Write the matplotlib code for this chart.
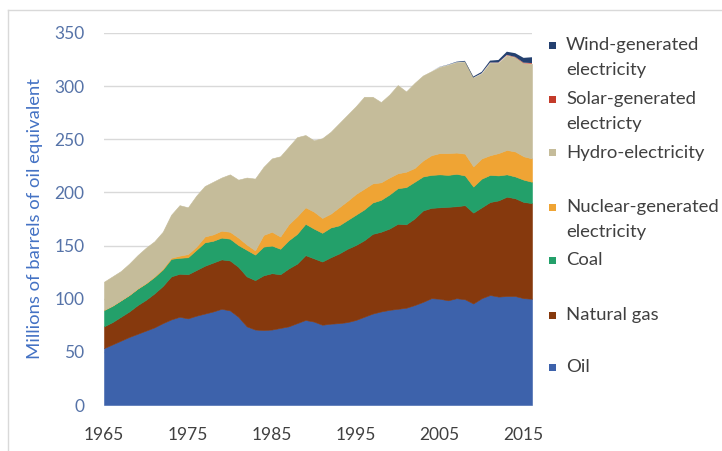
import matplotlib
matplotlib.use("Agg")
import matplotlib.pyplot as plt
from matplotlib.lines import Line2D
from matplotlib.patches import Rectangle

plt.rcParams['font.family'] = ['Lato', 'DejaVu Sans']

years = list(range(1965, 2017))

oil = [53.5, 57, 60.5, 64, 67, 70, 73, 77, 80.5, 83, 81.5, 84, 86, 88, 90.5, 89, 83, 74, 71,
       70.5, 71, 72.5, 74, 77, 80, 78.5, 75.5, 76.5, 77, 78, 80, 83, 86, 88, 89.5, 90.5, 91.5,
       94, 97, 100.5, 100, 98.5, 100.5, 99.5, 95.5, 100.5, 103.5, 102, 102.5, 102.5, 100.5, 100]
natural_gas = [20.5, 21, 22.5, 24, 27, 29, 32, 35, 40.5, 40.5, 41.5, 43, 45, 46, 46.5, 47, 47, 47,
               46.5, 51.5, 53, 50.5, 54.5, 56, 61, 59.5, 59.5, 62.5, 65.5, 69, 70.5, 72, 75, 75,
               76.5, 80, 78.5, 81.5, 86, 85, 86, 88, 86.5, 88.5, 85.5, 85.5, 87.5, 90.5, 93.5, 92,
               90.5, 90]
coal = [15.5, 15.5, 15.5, 15.5, 15.5, 15.5, 15.5, 15.5, 16.5, 15, 16, 19, 22, 20.5, 20.5, 20.5,
        20.5, 25, 24, 27, 26, 24, 26.5, 28, 29.5, 28, 27, 28, 26.5, 27, 28.5, 29, 29.5, 30, 32,
        33.5, 35, 34.5, 32, 31, 31, 30, 30.5, 28, 24.5, 27, 25.5, 23.5, 21, 20.5, 21, 20]
nuclear = [0, 0, 0, 0.1, 0.2, 0.3, 0.5, 0.8, 1, 2, 3, 3, 5.5, 6, 6.5, 6.5, 7, 5, 4, 11, 13, 11.5,
           15, 16.5, 15.5, 16, 14, 13, 17, 18, 19.5, 19.5, 18, 16.5, 16, 14, 14.5, 13, 15, 18.5,
           20, 20.5, 20, 20.5, 19, 19, 18.5, 21, 23, 23.5, 22, 22]
hydro = [26.5, 27.5, 27.5, 29.4, 31.3, 33.2, 33, 34.7, 40.5, 47.5, 44, 48, 47.5, 49.5, 50, 54,
         54.5, 63, 67.5, 64, 69, 75.5, 73, 74.5, 68, 67, 75, 77, 79, 81, 82.5, 86.5, 81.5, 75.5,
         78, 83, 75.5, 80, 80, 79, 81, 83, 85, 86.5, 83.5, 80, 87, 85, 89, 88.5, 87.5, 89]
solar = [0] * 45 + [0.1, 0.2, 0.3, 0.4, 0.5, 0.6, 0.7]
wind = [0] * 40 + [0.2, 0.3, 0.5, 0.8, 1, 1.3, 1.8, 2.3, 3, 3.5, 4.5, 5.5]

colors = ["#3D62AB", "#86390D", "#23A06A", "#EFA434", "#C5BC9A", "#C43B2A", "#24406F"]

yticks = [0, 50, 100, 150, 200, 250, 300, 350]
xticks = [1965, 1975, 1985, 1995, 2005, 2015]

W, H = 722, 451
fig = plt.figure(figsize=(W / 100, H / 100), dpi=100)
ax = fig.add_axes([104 / W, 1 - 405 / H, (532 - 104) / W, (405 - 33) / H])

polys = ax.stackplot(years, oil, natural_gas, coal, nuclear, hydro, solar, wind,
                     colors=colors, linewidth=0.4)
for i, (p, c) in enumerate(zip(polys, colors)):
    if i >= 5:
        p.set_linewidth(0)
        p.set_edgecolor('none')
    else:
        p.set_edgecolor(c)

ax.set_xlim(1965, 2016)
ax.set_ylim(0, 350)
ax.set_yticks(yticks)
ax.set_xticks(xticks)
ax.yaxis.grid(True, color="#D9D9D9", linewidth=1)
ax.set_axisbelow(True)
for s in ax.spines.values():
    s.set_visible(False)
ax.tick_params(axis='both', length=0, labelsize=12.5)
ax.tick_params(axis='y', pad=14, labelcolor="#5673A8")
ax.tick_params(axis='x', pad=16, labelcolor="#404040")
ax.set_ylabel("Millions of barrels of oil equivalent", color="#4472C4", fontsize=13.3,
              labelpad=8)

# legend (manual layout)
legend_items = [
    ("Wind-generated", "electricity", colors[6], 45),
    ("Solar-generated", "electricty", colors[5], 99),
    ("Hydro-electricity", None, colors[4], 153),
    ("Nuclear-generated", "electricity", colors[3], 207),
    ("Coal", None, colors[2], 260),
    ("Natural gas", None, colors[1], 315),
    ("Oil", None, colors[0], 367),
]
for line1, line2, col, ypx in legend_items:
    fig.add_artist(Rectangle((549 / W, 1 - (ypx + 3.5) / H), 7 / W, 7 / H,
                             transform=fig.transFigure, facecolor=col, edgecolor='none'))
    fig.text(566 / W, 1 - ypx / H, line1, fontsize=13.3, color="#404040", va='center', ha='left')
    if line2:
        fig.text(566 / W, 1 - (ypx + 25) / H, line2, fontsize=13.3, color="#404040",
                 va='center', ha='left')

# chart frame
fig.add_artist(Line2D([8 / W, 8 / W], [0, 1 - 10 / H], transform=fig.transFigure,
                      color="#D9D9D9", linewidth=1))
fig.add_artist(Line2D([8 / W, 1], [1 - 10 / H, 1 - 10 / H], transform=fig.transFigure,
                      color="#D9D9D9", linewidth=1))

fig.savefig("out.png", dpi=100, facecolor="white")
